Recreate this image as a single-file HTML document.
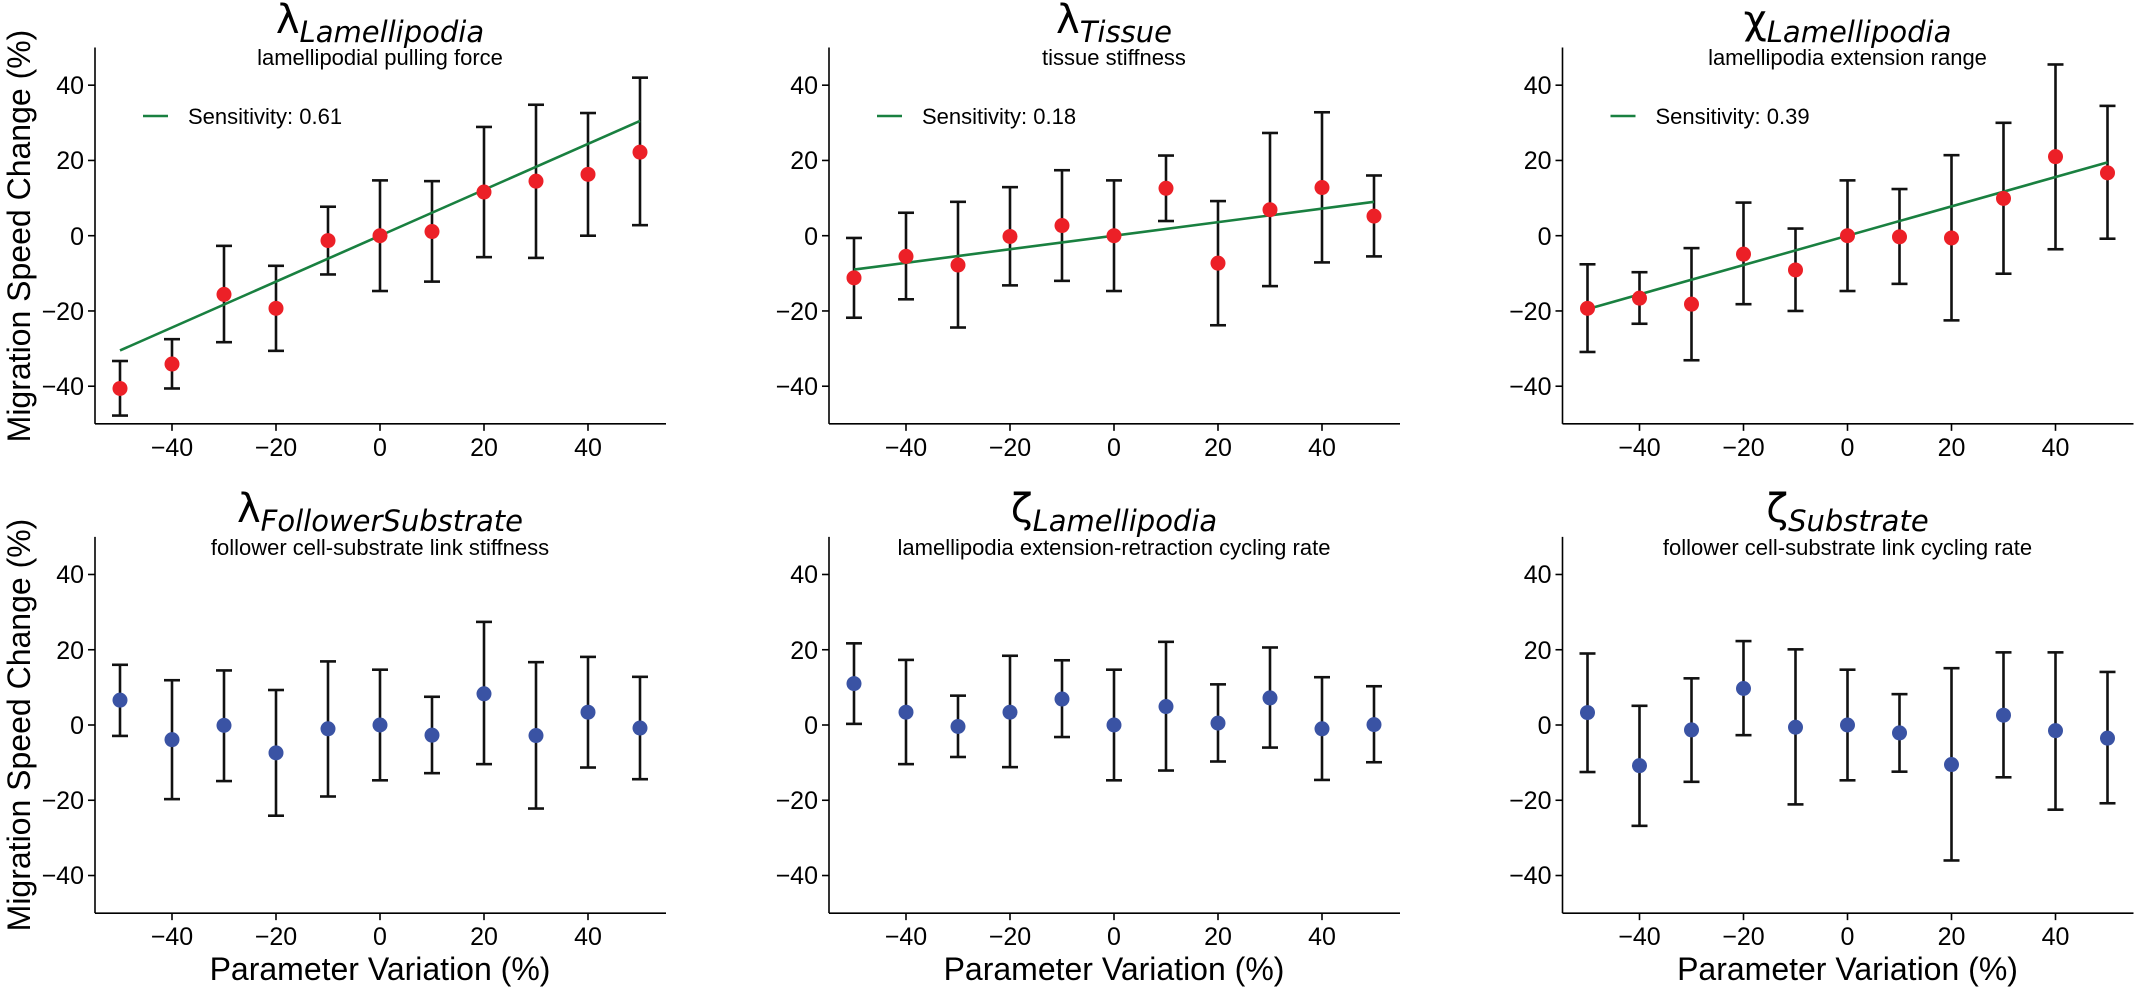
<!DOCTYPE html>
<html><head><meta charset="utf-8"><style>
html,body{margin:0;padding:0;background:#fff;}
svg{display:block;}
text{font-family:"Liberation Sans","DejaVu Sans",sans-serif;fill:#000;}
.t{font-family:"DejaVu Sans","Liberation Sans",sans-serif;}
.tk{font-size:25px;}
</style></head><body>
<svg id="s" width="2135" height="992" viewBox="0 0 2135 992" xmlns="http://www.w3.org/2000/svg">
<rect width="2135" height="992" fill="#fff"/>
<g id="marks"></g>

<!-- Y labels -->
<text transform="translate(30,236) rotate(-90)" text-anchor="middle" font-size="32">Migration Speed Change (%)</text>
<text transform="translate(30,725) rotate(-90)" text-anchor="middle" font-size="32">Migration Speed Change (%)</text>
<!-- X labels -->
<text x="380" y="980" text-anchor="middle" font-size="32">Parameter Variation (%)</text>
<text x="1114" y="980" text-anchor="middle" font-size="32">Parameter Variation (%)</text>
<text x="1847.5" y="980" text-anchor="middle" font-size="32">Parameter Variation (%)</text>

<!-- Titles row 1 -->
<text class="t" x="380" y="33" text-anchor="middle"><tspan font-size="40">λ</tspan><tspan font-size="29" font-style="italic" dy="9">Lamellipodia</tspan></text>
<text x="380" y="65" text-anchor="middle" font-size="22">lamellipodial pulling force</text>
<text class="t" x="1114" y="33" text-anchor="middle"><tspan font-size="40">λ</tspan><tspan font-size="29" font-style="italic" dy="9">Tissue</tspan></text>
<text x="1114" y="65" text-anchor="middle" font-size="22">tissue stiffness</text>
<text class="t" x="1847.5" y="33" text-anchor="middle"><tspan font-size="40">χ</tspan><tspan font-size="29" font-style="italic" dy="9">Lamellipodia</tspan></text>
<text x="1847.5" y="65" text-anchor="middle" font-size="22">lamellipodia extension range</text>
<!-- Titles row 2 -->
<text class="t" x="380" y="522" text-anchor="middle"><tspan font-size="40">λ</tspan><tspan font-size="29" font-style="italic" dy="9">FollowerSubstrate</tspan></text>
<text x="380" y="555" text-anchor="middle" font-size="22">follower cell-substrate link stiffness</text>
<text class="t" x="1114" y="522" text-anchor="middle"><tspan font-size="40">ζ</tspan><tspan font-size="29" font-style="italic" dy="9">Lamellipodia</tspan></text>
<text x="1114" y="555" text-anchor="middle" font-size="22">lamellipodia extension-retraction cycling rate</text>
<text class="t" x="1847.5" y="522" text-anchor="middle"><tspan font-size="40">ζ</tspan><tspan font-size="29" font-style="italic" dy="9">Substrate</tspan></text>
<text x="1847.5" y="555" text-anchor="middle" font-size="22">follower cell-substrate link cycling rate</text>

<!-- Legends -->
<text x="188" y="124" font-size="22">Sensitivity: 0.61</text>
<text x="922" y="124" font-size="22">Sensitivity: 0.18</text>
<text x="1655.5" y="124" font-size="22">Sensitivity: 0.39</text>

<!-- tick labels panel template repeated -->
<g class="tk" text-anchor="end">
<text x="84" y="94">40</text><text x="84" y="169">20</text><text x="84" y="245">0</text><text x="84" y="320">−20</text><text x="84" y="395">−40</text>
<text x="818" y="94">40</text><text x="818" y="169">20</text><text x="818" y="245">0</text><text x="818" y="320">−20</text><text x="818" y="395">−40</text>
<text x="1551.5" y="94">40</text><text x="1551.5" y="169">20</text><text x="1551.5" y="245">0</text><text x="1551.5" y="320">−20</text><text x="1551.5" y="395">−40</text>
<text x="84" y="583">40</text><text x="84" y="659">20</text><text x="84" y="734">0</text><text x="84" y="809">−20</text><text x="84" y="884">−40</text>
<text x="818" y="583">40</text><text x="818" y="659">20</text><text x="818" y="734">0</text><text x="818" y="809">−20</text><text x="818" y="884">−40</text>
<text x="1551.5" y="583">40</text><text x="1551.5" y="659">20</text><text x="1551.5" y="734">0</text><text x="1551.5" y="809">−20</text><text x="1551.5" y="884">−40</text>
</g>
<g class="tk" text-anchor="middle">
<text x="172" y="456">−40</text><text x="276" y="456">−20</text><text x="380" y="456">0</text><text x="484" y="456">20</text><text x="588" y="456">40</text>
<text x="906" y="456">−40</text><text x="1010" y="456">−20</text><text x="1114" y="456">0</text><text x="1218" y="456">20</text><text x="1322" y="456">40</text>
<text x="1639.5" y="456">−40</text><text x="1743.5" y="456">−20</text><text x="1847.5" y="456">0</text><text x="1951.5" y="456">20</text><text x="2055.5" y="456">40</text>
<text x="172" y="945">−40</text><text x="276" y="945">−20</text><text x="380" y="945">0</text><text x="484" y="945">20</text><text x="588" y="945">40</text>
<text x="906" y="945">−40</text><text x="1010" y="945">−20</text><text x="1114" y="945">0</text><text x="1218" y="945">20</text><text x="1322" y="945">40</text>
<text x="1639.5" y="945">−40</text><text x="1743.5" y="945">−20</text><text x="1847.5" y="945">0</text><text x="1951.5" y="945">20</text><text x="2055.5" y="945">40</text>
</g>
</svg>
<script>
(function(){
var NS="http://www.w3.org/2000/svg",g=document.getElementById("marks");
function el(t,a){var e=document.createElementNS(NS,t);for(var k in a)e.setAttribute(k,a[k]);g.appendChild(e);return e;}
var cols=[0,734,1467.5],rows=[0,489.3];
var P=[
 {r:0,c:0,col:"#ec2027",s:0.61,d:[[-40.6,-33.3,-47.8],[-34.1,-27.5,-40.6],[-15.6,-2.7,-28.3],[-19.3,-8,-30.6],[-1.3,7.7,-10.3],[0,14.7,-14.7],[1.1,14.5,-12.2],[11.6,28.9,-5.7],[14.5,34.8,-5.9],[16.3,32.6,0],[22.2,42,2.8]]},
 {r:0,c:1,col:"#ec2027",s:0.18,d:[[-11.2,-0.6,-21.8],[-5.5,6.1,-16.9],[-7.8,9,-24.4],[-0.2,12.9,-13.2],[2.7,17.4,-12],[0,14.7,-14.7],[12.6,21.3,3.9],[-7.3,9.2,-23.8],[6.9,27.3,-13.4],[12.8,32.8,-7.1],[5.2,16,-5.5]]},
 {r:0,c:2,col:"#ec2027",s:0.39,d:[[-19.3,-7.6,-30.9],[-16.6,-9.7,-23.4],[-18.2,-3.3,-33.1],[-4.9,8.8,-18.2],[-9.1,1.9,-20],[0,14.7,-14.7],[-0.3,12.4,-12.8],[-0.6,21.4,-22.5],[9.9,30,-10.1],[21,45.5,-3.6],[16.7,34.5,-0.8]]},
 {r:1,c:0,col:"#3a53a4",d:[[6.6,16,-2.9],[-3.9,11.9,-19.7],[-0.1,14.5,-14.9],[-7.4,9.3,-24.1],[-1,16.9,-19],[0,14.7,-14.7],[-2.7,7.5,-12.8],[8.3,27.4,-10.4],[-2.8,16.7,-22.2],[3.4,18.1,-11.3],[-0.8,12.8,-14.4]]},
 {r:1,c:1,col:"#3a53a4",d:[[11,21.7,0.3],[3.4,17.3,-10.4],[-0.4,7.8,-8.5],[3.4,18.4,-11.2],[6.9,17.2,-3.2],[0,14.7,-14.7],[4.9,22.1,-12.1],[0.5,10.8,-9.7],[7.2,20.6,-6],[-1,12.7,-14.6],[0.1,10.3,-9.9]]},
 {r:1,c:2,col:"#3a53a4",d:[[3.3,19,-12.5],[-10.8,5.1,-26.8],[-1.3,12.4,-15.1],[9.7,22.3,-2.7],[-0.6,20.1,-21.1],[0,14.7,-14.7],[-2.1,8.2,-12.4],[-10.5,15.1,-36],[2.6,19.3,-13.9],[-1.5,19.3,-22.5],[-3.5,14.1,-20.8]]}
];
P.forEach(function(p){
 var dx=cols[p.c],dy=rows[p.r];
 function X(v){return dx+380+5.2*v;} function Y(v){return dy+235.7-3.763*v;}
 var L={stroke:"#000","stroke-width":1.6};
 el("line",Object.assign({x1:dx+95,y1:Y(50),x2:dx+95,y2:Y(-50)},L));
 el("line",Object.assign({x1:dx+95,y1:Y(-50),x2:dx+666,y2:Y(-50)},L));
 [-40,-20,0,20,40].forEach(function(v){
  el("line",Object.assign({x1:dx+88,y1:Y(v),x2:dx+95,y2:Y(v)},L));
  el("line",Object.assign({x1:X(v),y1:Y(-50),x2:X(v),y2:Y(-50)+7},L));
 });
 p.d.forEach(function(d,i){
  var x=X(-50+10*i),E={stroke:"#111","stroke-width":2.6};
  el("line",Object.assign({x1:x,y1:Y(d[1]),x2:x,y2:Y(d[2])},E));
  el("line",Object.assign({x1:x-8,y1:Y(d[1]),x2:x+8,y2:Y(d[1])},E));
  el("line",Object.assign({x1:x-8,y1:Y(d[2]),x2:x+8,y2:Y(d[2])},E));
 });
 if(p.s){
  el("line",{x1:X(-50),y1:Y(-50*p.s),x2:X(50),y2:Y(50*p.s),stroke:"#198040","stroke-width":2.6});
  el("line",{x1:dx+143,y1:116,x2:dx+168,y2:116,stroke:"#198040","stroke-width":2.6});
 }
 p.d.forEach(function(d,i){
  el("circle",{cx:X(-50+10*i),cy:Y(d[0]),r:7.5,fill:p.col});
 });
});
})();
</script>
</body></html>
